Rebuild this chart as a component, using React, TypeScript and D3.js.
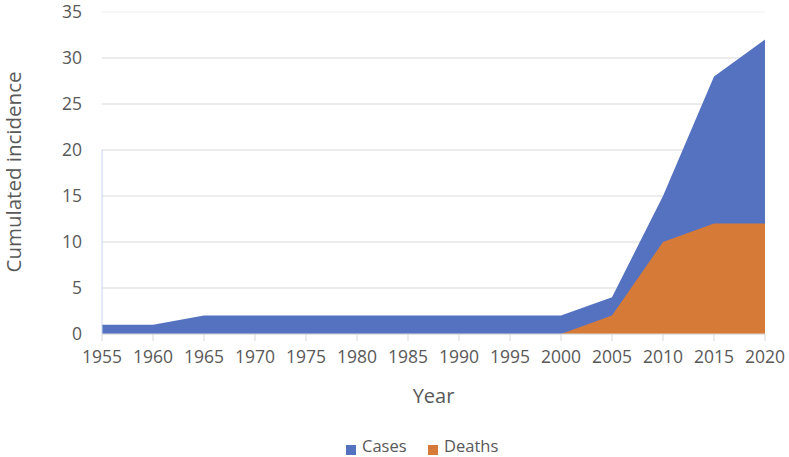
import React from "react";
import * as d3 from "d3";

const years = [1955, 1960, 1965, 1970, 1975, 1980, 1985, 1990, 1995, 2000, 2005, 2010, 2015, 2020];
const cases = [1, 1, 2, 2, 2, 2, 2, 2, 2, 2, 4, 15, 28, 32];
const deaths = [0, 0, 0, 0, 0, 0, 0, 0, 0, 0, 2, 10, 12, 12];
const yTicks = [0, 5, 10, 15, 20, 25, 30, 35];

const W = 789, H = 457;
const left = 102, right = 765, top = 12, bottom = 334;
const font = "'Open Sans', sans-serif";
const textColor = "#595959";

export default function App() {
  const x = d3.scaleLinear().domain([1955, 2020]).range([left, right]);
  const y = d3.scaleLinear().domain([0, 35]).range([bottom, top]);
  const area = d3.area<number>()
    .x((_, i) => x(years[i]))
    .y0(y(0))
    .y1((d) => y(d));
  return (
    <svg width={W} height={H} style={{ position: "absolute", left: 0, top: 0 }}>
      <rect width={W} height={H} fill="#fff" />
      {yTicks.map((t) => (
        <g key={t}>
          <line x1={left} x2={right} y1={y(t)} y2={y(t)} stroke={t === 35 ? "#eeeeee" : "#d9d9d9"} strokeWidth={1} />
          <text x={left - 20} y={y(t)} dy="0.35em" textAnchor="end" fontFamily={font} fontSize={17.5} fill={textColor}>{t}</text>
        </g>
      ))}
      <path d={area(cases) || ""} fill="#5572C1" />
      <path d={area(deaths) || ""} fill="#D67A37" />
      <line x1={left} x2={left} y1={y(20)} y2={y(0)} stroke="#c8d3f0" strokeWidth={1} />
      <line x1={left} x2={right} y1={y(0)} y2={y(0)} stroke="#d9d9d9" strokeWidth={1} />
      {years.map((yr) => (
        <g key={yr}>
          <line x1={x(yr)} x2={x(yr)} y1={bottom} y2={bottom + 7} stroke="#d9d9d9" />
          <text x={x(yr)} y={357} dy="0.35em" textAnchor="middle" fontFamily={font} fontSize={17.5} fill={textColor}>{yr}</text>
        </g>
      ))}
      <text x={(left + right) / 2} y={396} dy="0.35em" textAnchor="middle" fontFamily={font} fontSize={20} fill={textColor}>Year</text>
      <text transform={`translate(14,172) rotate(-90)`} dy="0.35em" textAnchor="middle" fontFamily={font} fontSize={20} textLength={201} lengthAdjust="spacingAndGlyphs" fill={textColor}>Cumulated incidence</text>
      <rect x={346} y={445} width={10} height={10} fill="#5572C1" />
      <text x={362} y={446} dy="0.35em" fontFamily={font} fontSize={16.5} fill={textColor}>Cases</text>
      <rect x={428} y={445} width={10} height={10} fill="#D67A37" />
      <text x={444} y={446} dy="0.35em" fontFamily={font} fontSize={16.5} fill={textColor}>Deaths</text>
    </svg>
  );
}
